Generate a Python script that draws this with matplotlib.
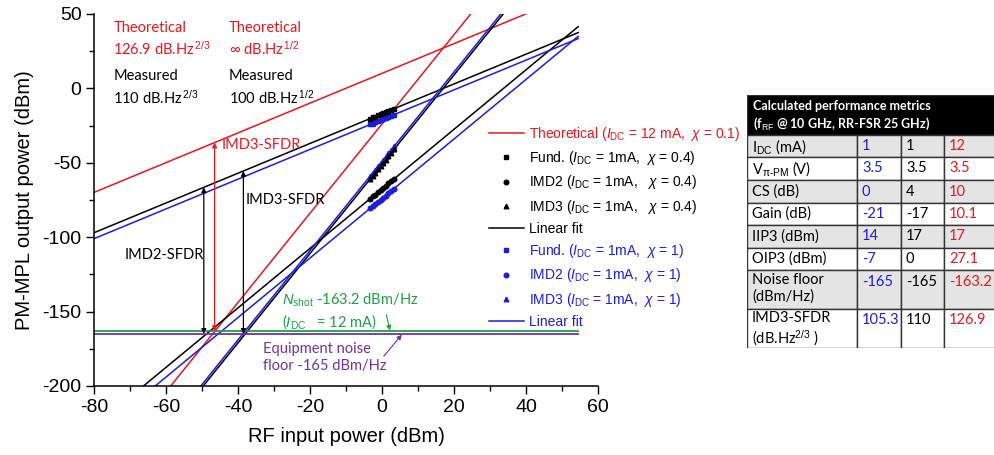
import numpy as np
import matplotlib.pyplot as plt
from matplotlib.patches import Rectangle

plt.rcParams['font.family'] = ['Liberation Sans', 'DejaVu Sans']
plt.rcParams['mathtext.fontset'] = 'custom'
plt.rcParams['mathtext.rm'] = 'Liberation Sans'
plt.rcParams['mathtext.it'] = 'Liberation Sans:italic'
plt.rcParams['mathtext.bf'] = 'Liberation Sans:bold'
plt.rcParams['axes.unicode_minus'] = False

RED = '#e8161e'
BLUE = '#1c1cdc'
GREEN = '#1e9e46'
PURPLE = '#7030a0'
CAL = ['Lato', 'DejaVu Sans']   # stand-in for Calibri

# table values: blue (chi=1), black (chi=0.4), red (theory)
gain_blue, gain_black, gain_red = -21, -17, 10.1
iip3_blue, iip3_black, iip3_red = 14, 17, 17
oip3_blue, oip3_black, oip3_red = -7, 0, 27.1
noise_shot = -163.2
noise_equip = -165

# IMD2 fit intercepts (dBm at 0 dBm input)
imd2_icpt_black = -67.5
imd2_icpt_blue = -74.0

# measured points
pin_meas = [-3.3, -2.6, -1.9, -1.1, -0.4, 0.3, 1.0, 1.8, 2.6, 3.4]
fund_black = [-20.3, -19.5, -18.9, -18.2, -17.3, -16.8, -16.1, -15.1, -14.5, -13.6]
imd2_black = [-74.2, -72.6, -71.4, -69.6, -68.4, -66.8, -65.6, -63.8, -62.4, -60.7]
imd3_black = [-61.0, -58.7, -56.8, -54.2, -52.3, -50.0, -48.1, -45.5, -43.1, -40.9]
fund_blue = [-24.2, -23.7, -22.8, -22.1, -21.5, -20.6, -20.1, -19.3, -18.3, -17.6]
imd2_blue = [-80.7, -79.1, -77.9, -76.3, -74.7, -73.5, -72.1, -70.3, -68.9, -67.3]
imd3_blue = [-58.8, -56.9, -54.6, -52.2, -50.3, -48.0, -45.9, -43.7, -41.1, -38.9]

# table
tab_rows = ['I$_{\\mathrm{DC}}$ (mA)', 'V$_{\\mathrm{\u03c0\u2010PM}}$ (V)', 'CS (dB)', 'Gain (dB)',
            'IIP3 (dBm)', 'OIP3 (dBm)', 'Noise floor\n(dBm/Hz)', 'IMD3-SFDR\n(dB.Hz$^{2/3}$ )']
tab_blue = ['1', '3.5', '0', '-21', '14', '-7', '-165', '105.3']
tab_black = ['1', '3.5', '4', '-17', '17', '0', '-165', '110']
tab_red = ['12', '3.5', '10', '10.1', '17', '27.1', '-163.2', '126.9']

x_end = 54.5
xx = np.linspace(-80, x_end, 200)

fig = plt.figure(figsize=(9.95, 4.55), dpi=100)
ax = fig.add_axes([94/995, 69/455, 504/995, 372/455])

# fit lines
l_theo, = ax.plot(xx, xx + gain_red, color=RED, lw=1.1, label='Theoretical ($I_{\\mathrm{DC}}$ = 12 mA,  $\\chi$ = 0.1)')
ax.plot(xx, oip3_red + 3*(xx - iip3_red), color=RED, lw=1.1)
l_fitk, = ax.plot(xx, xx + gain_black, color='black', lw=1.1, label='Linear fit')
ax.plot(xx, imd2_icpt_black + 2*xx, color='black', lw=1.1)
ax.plot(xx, oip3_black + 3*(xx - iip3_black), color='black', lw=1.1)
l_fitb, = ax.plot(xx, xx + gain_blue, color=BLUE, lw=1.1, label='Linear fit')
ax.plot(xx, imd2_icpt_blue + 2*xx, color=BLUE, lw=1.1)
ax.plot(xx, oip3_blue + 3*(xx - iip3_blue), color=BLUE, lw=1.1)

ax.plot([-80, x_end], [noise_shot]*2, color=GREEN, lw=1.3)
ax.plot([-80, x_end], [noise_equip]*2, color=PURPLE, lw=1.3)

# markers
ms = 3.3
m1, = ax.plot(pin_meas, fund_black, 's', color='black', ms=ms, zorder=5, label='Fund. ($I_{\\mathrm{DC}}$ = 1mA,  $\\chi$ = 0.4)')
m2, = ax.plot(pin_meas, imd2_black, 'o', color='black', ms=ms, zorder=5, label='IMD2 ($I_{\\mathrm{DC}}$ = 1mA,   $\\chi$ = 0.4)')
m3, = ax.plot(pin_meas, imd3_black, '^', color='black', ms=ms, zorder=5, label='IMD3 ($I_{\\mathrm{DC}}$ = 1mA,   $\\chi$ = 0.4)')
b1, = ax.plot(pin_meas, fund_blue, 's', color=BLUE, ms=ms, zorder=4, label='Fund. ($I_{\\mathrm{DC}}$ = 1mA,  $\\chi$ = 1)')
b2, = ax.plot(pin_meas, imd2_blue, 'o', color=BLUE, ms=ms, zorder=4, label='IMD2 ($I_{\\mathrm{DC}}$ = 1mA,  $\\chi$ = 1)')
b3, = ax.plot(pin_meas, imd3_blue, '^', color=BLUE, ms=ms, zorder=4, label='IMD3 ($I_{\\mathrm{DC}}$ = 1mA,  $\\chi$ = 1)')

# SFDR arrows
def sfdr_arrow(x, top, bottom, color):
    ax.annotate('', xy=(x, top), xytext=(x, bottom),
                arrowprops=dict(arrowstyle='<|-|>', color=color, lw=0.9,
                                mutation_scale=7, shrinkA=0, shrinkB=0))

sfdr_arrow(-49.5, -49.5 + gain_black, noise_equip, 'black')
sfdr_arrow(-46.5, -46.5 + gain_red, noise_shot, RED)
sfdr_arrow(-38.5, -38.5 + gain_black, noise_equip, 'black')

ax.text(-44.6, -38, 'IMD3-SFDR', color=RED, fontsize=10.5, family=CAL, va='center')
ax.text(-38, -75, 'IMD3-SFDR', color='black', fontsize=10.5, family=CAL, va='center')
ax.text(-71.5, -112, 'IMD2-SFDR', color='black', fontsize=10.5, family=CAL, va='center')

txt_kw = dict(fontsize=10.5, family=CAL, va='center', linespacing=1.35)
ax.text(-74.6, 33, 'Theoretical\n126.9 dB.Hz$^{\\,2/3}$', color=RED, **txt_kw)
ax.text(-42.5, 33, 'Theoretical\n\u221e dB.Hz$^{\\,1/2}$', color=RED, **txt_kw)
ax.text(-74.6, 0.5, 'Measured\n110 dB.Hz$^{\\,2/3}$', color='black', **txt_kw)
ax.text(-42.5, 0.5, 'Measured\n100 dB.Hz$^{\\,1/2}$', color='black', **txt_kw)

ax.text(-27.8, -150, '$N$$_{\\mathrm{shot}}$ -163.2 dBm/Hz\n($I$$_{\\mathrm{DC}}$   = 12 mA)', color=GREEN,
        fontsize=10.5, family=CAL, va='center', linespacing=1.2)
ax.annotate('', xy=(2.2, noise_shot + 0.5), xytext=(1.2, -152),
            arrowprops=dict(arrowstyle='-|>', color=GREEN, lw=0.8, mutation_scale=7, shrinkA=0, shrinkB=0))
ax.text(-33, -181, 'Equipment noise\nfloor -165 dBm/Hz', color=PURPLE, fontsize=10.5, family=CAL,
        va='center', linespacing=1.25)
ax.annotate('', xy=(5.5, noise_equip - 0.5), xytext=(0.5, -180),
            arrowprops=dict(arrowstyle='-|>', color=PURPLE, lw=0.8, mutation_scale=7, shrinkA=0, shrinkB=0))

ax.set_xlim(-80, 60)
ax.set_ylim(-200, 50)
ax.set_xticks(np.arange(-80, 61, 20))
ax.set_xticks(np.arange(-70, 60, 20), minor=True)
ax.set_yticks(np.arange(-200, 51, 50))
ax.set_yticks(np.arange(-175, 50, 50), minor=True)
ax.tick_params(which='major', length=6, width=1, labelsize=14, pad=3)
ax.tick_params(which='minor', length=3.5, width=1)
for s in ['top', 'right']:
    ax.spines[s].set_visible(False)
for s in ['left', 'bottom']:
    ax.spines[s].set_linewidth(1.1)
ax.set_xlabel('RF input power (dBm)', fontsize=14.5, labelpad=8)
ax.set_ylabel('PM-MPL output power (dBm)', fontsize=14.5, labelpad=6)

handles = [l_theo, m1, m2, m3, l_fitk, b1, b2, b3, l_fitb]
leg = fig.legend(handles=handles, loc='upper left', bbox_to_anchor=(482/995, 1 - 118/455),
                 frameon=False, fontsize=10, handlelength=2.5, handletextpad=0.35,
                 labelspacing=0.45, borderpad=0,
                 labelcolor=[RED, 'black', 'black', 'black', 'black', BLUE, BLUE, BLUE, BLUE])

# performance table (pixel coordinates of the figure)
tx = fig.add_axes([747/995, 1 - 348/455, (995 - 747)/995, (348 - 95)/455])
tx.set_xlim(747, 995)
tx.set_ylim(348, 95)
tx.axis('off')
col_edges = [747, 857, 901, 944, 1010]
row_edges = [135, 157, 180, 202.5, 225, 247.5, 270, 308.5, 348]
tx.add_patch(Rectangle((747, 95), 263, 40, facecolor='black', edgecolor='#333333', lw=1, clip_on=True))
tx.text(753, 106, 'Calculated performance metrics', color='white', fontsize=9, family=CAL,
        weight='bold', va='center')
tx.text(753, 124, '(f$_{\\mathrm{RF}}$ @ 10 GHz, RR-FSR 25 GHz)', color='white', fontsize=9, family=CAL,
        weight='bold', va='center')
fs_tab = 10.5
for i in range(len(tab_rows)):
    y0, y1 = row_edges[i], row_edges[i + 1]
    fc = '#e4e4e4' if i % 2 == 0 else 'white'
    for j in range(4):
        tx.add_patch(Rectangle((col_edges[j], y0), col_edges[j + 1] - col_edges[j], y1 - y0,
                               facecolor=fc, edgecolor='#333333', lw=1, clip_on=True))
    yt = y0 + 11.5
    if '\n' in tab_rows[i]:
        tx.text(752, y0 + 3, tab_rows[i], fontsize=fs_tab, family=CAL, va='top', linespacing=1.2)
    else:
        tx.text(752, yt, tab_rows[i], fontsize=fs_tab, family=CAL, va='center')
    tx.text(862, yt, tab_blue[i], fontsize=fs_tab, family=CAL, va='center', color=BLUE)
    tx.text(906, yt, tab_black[i], fontsize=fs_tab, family=CAL, va='center', color='black')
    tx.text(949, yt, tab_red[i], fontsize=fs_tab, family=CAL, va='center', color=RED)

fig.savefig('out.png', dpi=100)
